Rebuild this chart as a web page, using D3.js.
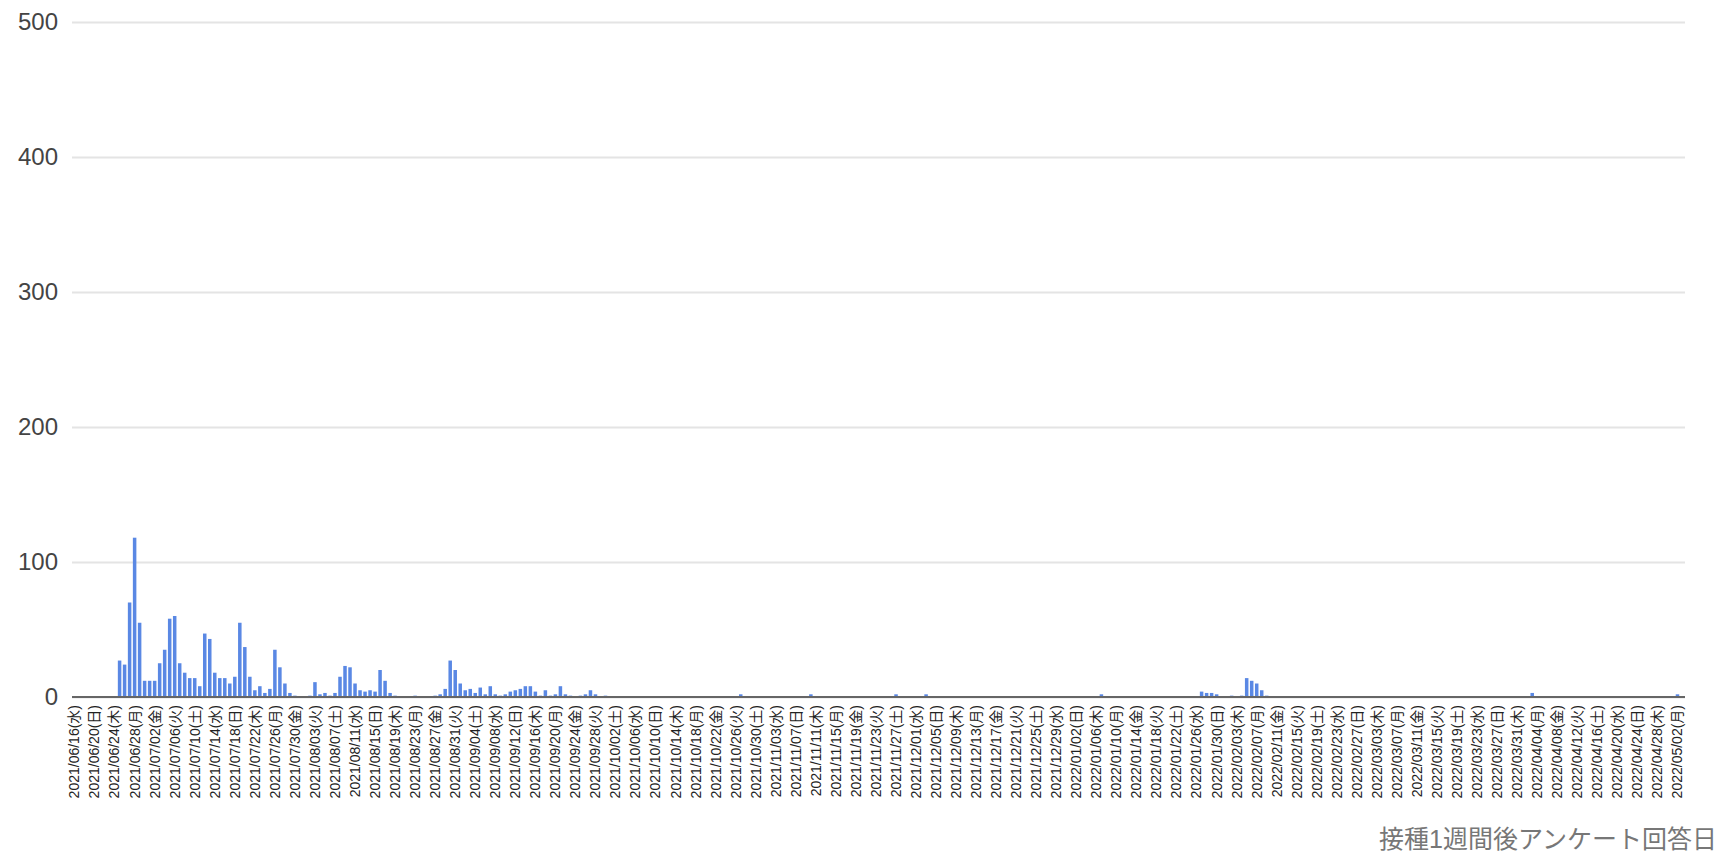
<!DOCTYPE html>
<html>
<head>
<meta charset="utf-8">
<script src="https://cdn.jsdelivr.net/npm/d3@7"></script>
<style>
  body { margin: 0; background: #fff; }
  text { font-family: "Liberation Sans", Arial, "Noto Sans CJK JP", sans-serif; }
</style>
</head>
<body>
<div id="vis"></div>
<script>
const FRAME_WIDTH = 1719;
const FRAME_HEIGHT = 852;
const MARGINS = {left: 72, right: 34, top: 22, bottom: 155};

// one bar per day, 2021/06/16 .. 2022/05/03
const dates = d3.timeDay.range(new Date(2021, 5, 16), new Date(2022, 4, 4));
const weekdays = ["日", "月", "火", "水", "木", "金", "土"];

const counts = [
  0, 0, 0, 0, 0, 0, 0, 0, 0, 27,
  24, 70, 118, 55, 12, 12, 12, 25, 35, 58,
  60, 25, 18, 14, 14, 8, 47, 43, 18, 14,
  14, 10, 15, 55, 37, 15, 5, 8, 3, 6,
  35, 22, 10, 3, 1, 0, 0, 1, 11, 2,
  3, 1, 3, 15, 23, 22, 10, 5, 4, 5,
  4, 20, 12, 3, 1, 0, 0, 0, 1, 0,
  0, 0, 1, 2, 6, 27, 20, 10, 5, 6,
  3, 7, 2, 8, 2, 1, 2, 4, 5, 6,
  8, 8, 4, 1, 5, 1, 2, 8, 2, 1,
  0, 1, 2, 5, 2, 0, 1, 0, 0, 0,
  0, 0, 0, 0, 0, 0, 0, 0, 0, 0,
  0, 0, 0, 0, 0, 0, 0, 0, 0, 0,
  0, 0, 0, 2, 0, 0, 0, 0, 0, 0,
  0, 0, 0, 0, 0, 0, 0, 2, 0, 0,
  0, 0, 0, 0, 0, 0, 0, 0, 0, 0,
  0, 0, 0, 0, 2, 0, 0, 0, 0, 0,
  2, 0, 0, 0, 0, 0, 0, 0, 0, 0,
  0, 0, 0, 0, 0, 0, 0, 0, 0, 0,
  0, 0, 0, 0, 0, 0, 0, 0, 0, 0,
  0, 0, 0, 0, 0, 2, 0, 0, 0, 0,
  0, 0, 0, 0, 0, 0, 0, 0, 0, 0,
  0, 0, 0, 0, 0, 4, 3, 3, 2, 0,
  0, 1, 0, 1, 14, 12, 10, 5, 1, 0,
  0, 0, 0, 0, 0, 0, 0, 0, 0, 0,
  0, 0, 0, 0, 0, 0, 0, 0, 0, 0,
  0, 0, 0, 0, 0, 0, 0, 0, 0, 0,
  0, 0, 0, 0, 0, 0, 0, 0, 0, 0,
  0, 0, 0, 0, 0, 0, 0, 0, 0, 0,
  0, 3, 0, 0, 0, 0, 0, 0, 0, 0,
  0, 0, 0, 0, 0, 0, 0, 0, 0, 0,
  0, 0, 0, 0, 0, 0, 0, 0, 0, 0,
  2, 0
];

const yTicks = [0, 100, 200, 300, 400, 500];
const xTitle = "接種1週間後アンケート回答日";

const VIS_WIDTH = FRAME_WIDTH - MARGINS.left - MARGINS.right;
const VIS_HEIGHT = FRAME_HEIGHT - MARGINS.top - MARGINS.bottom;

const FRAME = d3.select("#vis")
  .append("svg")
    .attr("width", FRAME_WIDTH)
    .attr("height", FRAME_HEIGHT);

const X_SCALE = d3.scaleBand()
  .domain(dates)
  .range([MARGINS.left, MARGINS.left + VIS_WIDTH])
  .paddingInner(0.3)
  .paddingOuter(0.15);

const Y_SCALE = d3.scaleLinear()
  .domain([0, 500])
  .range([MARGINS.top + VIS_HEIGHT, MARGINS.top]);

// gridlines + y labels
const yAxis = FRAME.append("g")
  .attr("transform", "translate(" + MARGINS.left + ",0)")
  .call(d3.axisLeft(Y_SCALE).tickValues(yTicks).tickSize(-VIS_WIDTH).tickPadding(14));
yAxis.select(".domain").remove();
yAxis.selectAll("line").attr("stroke", "#e4e4e4").attr("stroke-width", 2);
yAxis.selectAll("text")
  .attr("font-size", "24px")
  .attr("fill", "#444");

const data = dates.map((d, i) => ({date: d, value: counts[i]}));

FRAME.selectAll(".bar")
  .data(data)
  .enter()
  .append("rect")
    .attr("class", "bar")
    .attr("x", d => X_SCALE(d.date))
    .attr("y", d => Y_SCALE(d.value))
    .attr("width", X_SCALE.bandwidth())
    .attr("height", d => Y_SCALE(0) - Y_SCALE(d.value))
    .attr("fill", "#5a88e4");

// baseline
FRAME.append("line")
  .attr("x1", MARGINS.left).attr("x2", MARGINS.left + VIS_WIDTH)
  .attr("y1", Y_SCALE(0)).attr("y2", Y_SCALE(0))
  .attr("stroke", "#666").attr("stroke-width", 2);

// x labels, every 4th day, vertical
const fmt = d3.timeFormat("%Y/%m/%d");
const xAxis = FRAME.append("g")
  .attr("transform", "translate(0," + Y_SCALE(0) + ")")
  .call(d3.axisBottom(X_SCALE)
    .tickValues(dates.filter((d, i) => i % 4 === 0))
    .tickSize(0)
    .tickFormat(d => fmt(d) + "(" + weekdays[d.getDay()] + ")"));
xAxis.select(".domain").remove();
xAxis.selectAll("text")
  .attr("font-size", "14px")
  .attr("fill", "#222")
  .attr("text-anchor", "end")
  .attr("dy", "0.35em")
  .attr("transform", "translate(0,8) rotate(-90)")
  .attr("x", 0).attr("y", 0);

FRAME.append("text")
  .attr("x", FRAME_WIDTH - 2)
  .attr("y", FRAME_HEIGHT - 4)
  .attr("text-anchor", "end")
  .attr("font-size", "25px")
  .attr("fill", "#777")
  .text(xTitle);
</script>
</body>
</html>
